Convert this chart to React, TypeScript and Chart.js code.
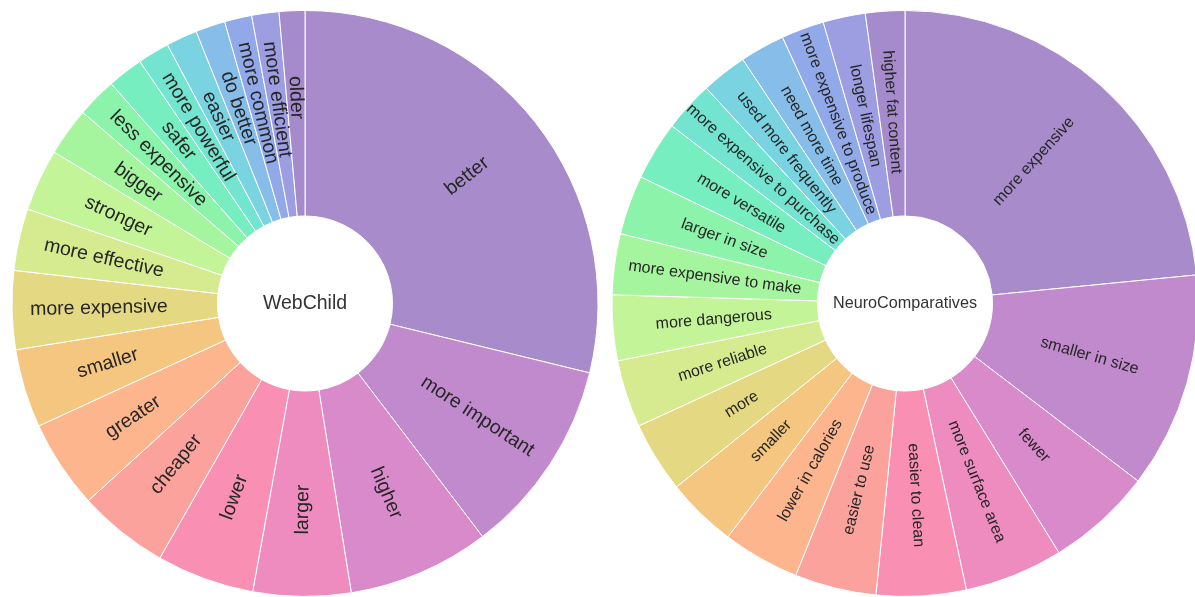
import React, { useEffect, useRef } from "react";
import { Chart, registerables } from "chart.js";

Chart.register(...registerables);

// ---- Data (slice sizes, in degrees of the ring) ----
const webChildLabels = [
  "better", "more important", "higher", "larger", "lower", "cheaper", "greater",
  "smaller", "more expensive", "more effective", "stronger", "bigger",
  "less expensive", "safer", "more powerful", "easier", "do better",
  "more common", "more efficient", "older",
];
const webChildValues = [
  103.7, 39.0, 28.2, 19.4, 19.4, 18.0, 17.6, 15.6, 15.6, 12.3, 12.3, 9.6,
  7.9, 7.1, 6.3, 6.2, 5.9, 5.4, 5.4, 5.1,
];

const neuroLabels = [
  "more expensive", "smaller in size", "fewer", "more surface area",
  "easier to clean", "easier to use", "lower in calories", "smaller", "more",
  "more reliable", "more dangerous", "more expensive to make", "larger in size",
  "more versatile", "more expensive to purchase", "used more frequently",
  "need more time", "more expensive to produce", "longer lifespan",
  "higher fat content",
];
const neuroValues = [
  84.4, 42.9, 21.0, 19.6, 17.8, 16.2, 15.3, 14.05, 14.05, 13.4, 13.0, 12.1,
  11.8, 11.7, 10.0, 9.1, 8.9, 8.5, 8.4, 7.8,
];

const sliceColors = [
  "#A78BCB", "#C08ACD", "#D98ACA", "#EE8CC0", "#F98FB2", "#FCA29C", "#FCB58D",
  "#F5C67F", "#E4D882", "#D6EA8F", "#C3F598", "#A5F59E", "#8CF3AA", "#76EEBF",
  "#72E4CF", "#7AD3E0", "#87BDE9", "#91A9E9", "#9D9DE2", "#A58BCC",
];

const FONT = '"Liberation Sans", Arial, Helvetica, sans-serif';

const ringLabelPlugin = {
  id: "ringLabels",
  afterDatasetsDraw(chart: any, _args: any, opts: any) {
    const ctx = chart.ctx as CanvasRenderingContext2D;
    const meta = chart.getDatasetMeta(0);
    const labels = chart.data.labels as string[];
    ctx.save();
    ctx.textAlign = "center";
    ctx.textBaseline = "middle";
    ctx.font = `${opts.fontSize}px ${FONT}`;
    ctx.fillStyle = opts.color;
    let cx = 0;
    let cy = 0;
    meta.data.forEach((arc: any, i: number) => {
      const p = arc.getProps(["x", "y", "startAngle", "endAngle", "innerRadius", "outerRadius"], true);
      cx = p.x;
      cy = p.y;
      const mid = (p.startAngle + p.endAngle) / 2;
      const r = p.innerRadius + (p.outerRadius - p.innerRadius) * opts.radiusFrac;
      const tx = p.x + Math.cos(mid) * r;
      const ty = p.y + Math.sin(mid) * r;
      let rot = mid;
      if (Math.cos(rot) < 0) rot += Math.PI;
      ctx.save();
      ctx.translate(tx, ty);
      ctx.rotate(rot);
      ctx.fillText(labels[i], 0, 0);
      ctx.restore();
    });
    ctx.font = `${opts.centerSize}px ${FONT}`;
    ctx.fillStyle = "#333333";
    ctx.fillText(opts.centerText, cx, cy);
    ctx.restore();
  },
};

function Ring(props: {
  labels: string[];
  values: number[];
  centerText: string;
  fontSize: number;
  centerSize: number;
  radiusFrac: number;
  left: number;
}) {
  const ref = useRef<HTMLCanvasElement | null>(null);
  useEffect(() => {
    if (!ref.current) return;
    const chart = new Chart(ref.current, {
      type: "doughnut",
      data: {
        labels: props.labels,
        datasets: [
          {
            data: props.values,
            backgroundColor: sliceColors,
            borderColor: "#ffffff",
            borderWidth: 1,
          },
        ],
      },
      options: {
        responsive: false,
        animation: false,
        radius: 293,
        cutout: 87.5,
        layout: { padding: { top: 10, bottom: 0, left: 0, right: 0 } },
        plugins: {
          legend: { display: false },
          tooltip: { enabled: false },
          ringLabels: {
            fontSize: props.fontSize,
            centerSize: props.centerSize,
            radiusFrac: props.radiusFrac,
            centerText: props.centerText,
            color: "#262626",
          },
        } as any,
      } as any,
      plugins: [ringLabelPlugin as any],
    });
    return () => chart.destroy();
  }, []);
  return (
    <canvas
      ref={ref}
      width={610}
      height={597}
      style={{ position: "absolute", left: props.left, top: 0, width: 610, height: 597 }}
    />
  );
}

export default function App() {
  return (
    <div
      style={{
        position: "fixed",
        left: 0,
        top: 0,
        width: 1195,
        height: 597,
        overflow: "hidden",
        background: "#ffffff",
      }}
    >
      <Ring
        labels={webChildLabels}
        values={webChildValues}
        centerText="WebChild"
        fontSize={19.5}
        centerSize={19.5}
        radiusFrac={0.577}
        left={0}
      />
      <Ring
        labels={neuroLabels}
        values={neuroValues}
        centerText="NeuroComparatives"
        fontSize={16}
        centerSize={16.2}
        radiusFrac={0.508}
        left={600}
      />
    </div>
  );
}
